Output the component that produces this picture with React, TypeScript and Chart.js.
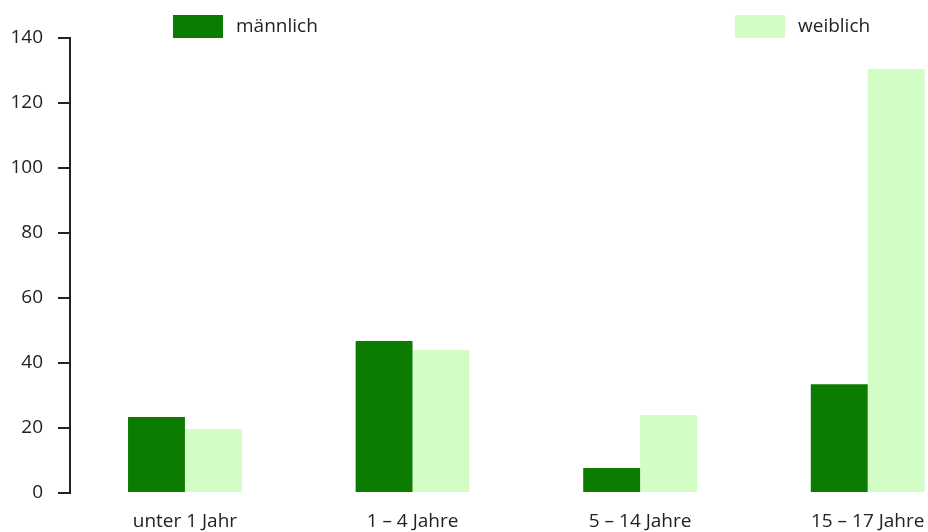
import React, { useEffect, useRef } from "react";
import { Chart, registerables } from "chart.js";

Chart.register(...registerables);

const categories = ["unter 1 Jahr", "1 – 4 Jahre", "5 – 14 Jahre", "15 – 17 Jahre"];
const seriesNames = ["männlich", "weiblich"];
const maleValues = [23.4, 46.8, 7.7, 33.5];
const femaleValues = [19.7, 44, 24, 130.5];
const yTicks = [0, 20, 40, 60, 80, 100, 120, 140];

const MALE_COLOR = "#0b7c00";
const FEMALE_COLOR = "#d2fdc5";
const TEXT_COLOR = "#222222";
const FONT = "'Open Sans', 'Noto Sans', sans-serif";
const FONT_SIZE = 19;

const legendPlugin = {
  id: "spreadLegend",
  afterDraw(chart: any) {
    const ctx = chart.ctx;
    const xs = [173, 735];
    ctx.save();
    chart.data.datasets.forEach((ds: any, i: number) => {
      const x = xs[i];
      ctx.fillStyle = ds.backgroundColor;
      ctx.fillRect(x, 15, 50, 23);
      ctx.fillStyle = TEXT_COLOR;
      ctx.font = `${FONT_SIZE}px ${FONT}`;
      ctx.textBaseline = "middle";
      ctx.textAlign = "left";
      ctx.fillText(ds.label, x + 63, 27);
    });
    ctx.restore();
  },
};

export default function App() {
  const ref = useRef<HTMLCanvasElement>(null);
  useEffect(() => {
    if (!ref.current) return;
    const chart = new Chart(ref.current, {
      type: "bar",
      data: {
        datasets: [
          {
            label: seriesNames[0],
            data: maleValues.map((v, i) => ({ x: i, y: v })),
            backgroundColor: MALE_COLOR,
            borderWidth: 0,
          },
          {
            label: seriesNames[1],
            data: femaleValues.map((v, i) => ({ x: i, y: v })),
            backgroundColor: FEMALE_COLOR,
            borderWidth: 0,
          },
        ],
      },
      options: {
        animation: false,
        responsive: true,
        maintainAspectRatio: false,
        layout: { padding: { top: 38, left: 0, right: 0, bottom: 0 } },
        datasets: { bar: { categoryPercentage: 0.5, barPercentage: 1 } } as any,
        plugins: { legend: { display: false }, tooltip: { enabled: false } },
        scales: {
          x: {
            type: "linear",
            min: -0.505,
            max: 3.265,
            offset: false,
            grid: { display: false, drawTicks: false, tickLength: 0 },
            border: { display: false },
            afterBuildTicks: (scale: any) => {
              scale.ticks = categories.map((_, i) => ({ value: i }));
            },
            afterFit: (scale: any) => {
              scale.height = 39;
              scale.paddingLeft = 0;
              scale.paddingRight = 0;
            },
            ticks: {
              padding: 17,
              color: TEXT_COLOR,
              font: { family: FONT, size: FONT_SIZE },
              maxRotation: 0,
              autoSkip: false,
              callback: (v: any) => categories[v as number] ?? "",
            },
          },
          y: {
            min: 0,
            max: 140,
            afterBuildTicks: (scale: any) => {
              scale.ticks = yTicks.map((v) => ({ value: v }));
            },
            afterFit: (scale: any) => {
              scale.width = 70;
            },
            grid: {
              drawOnChartArea: false,
              drawTicks: true,
              tickLength: 12,
              tickColor: TEXT_COLOR,
              lineWidth: 2,
            },
            border: { display: true, color: TEXT_COLOR, width: 2 },
            ticks: {
              padding: 15,
              color: TEXT_COLOR,
              font: { family: FONT, size: FONT_SIZE },
            },
          },
        },
      },
      plugins: [legendPlugin],
    });
    return () => chart.destroy();
  }, []);
  return (
    <div style={{ position: "fixed", left: 0, top: 0, width: 928, height: 532 }}>
      <canvas ref={ref} />
    </div>
  );
}
